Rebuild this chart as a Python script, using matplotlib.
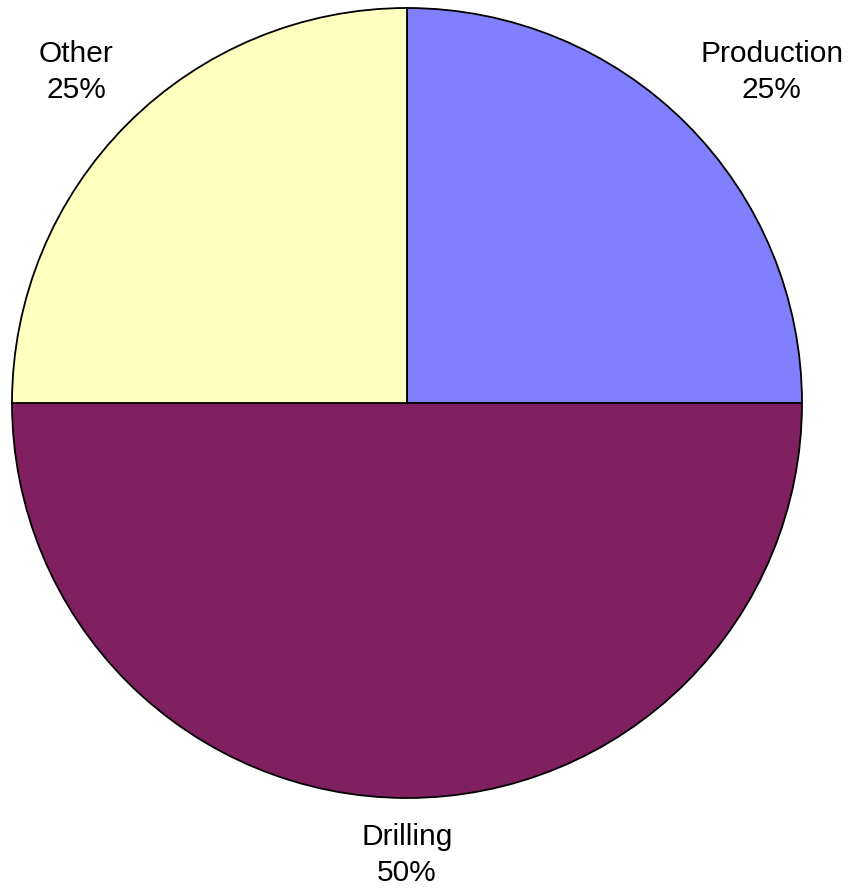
import numpy as np
import matplotlib.pyplot as plt

# slice data (clockwise from 12 o'clock)
categories = ['Production', 'Drilling', 'Other']
shares = [25, 50, 25]
colors = ['#8080FF', '#802060', '#FFFFC0']

# label placement: (distance in radii, angle in degrees)
label_pos = [(1.247, 42.2), (1.144, -90), (1.185, 135)]

fig = plt.figure(figsize=(8.53, 8.92), dpi=100)
ax = fig.add_axes([0, 0, 1, 1])

cx, cy, r = 407, 892 - 403, 395
wedges, _ = ax.pie(shares, colors=colors, startangle=90, counterclock=False,
                   center=(cx, cy), radius=r,
                   wedgeprops=dict(edgecolor='black', linewidth=1.3))
ax.set_xlim(0, 853)
ax.set_ylim(0, 892)
ax.set_aspect('equal')
ax.axis('off')

for name, val, (d, a) in zip(categories, shares, label_pos):
    ang = np.deg2rad(a)
    x = cx + d * r * np.cos(ang)
    y = cy + d * r * np.sin(ang)
    ax.text(x, y, f'{name}\n{val}%', ha='center', va='center',
            fontsize=21.5, family='Liberation Sans', linespacing=1.38)

fig.savefig('out.png', dpi=100)
